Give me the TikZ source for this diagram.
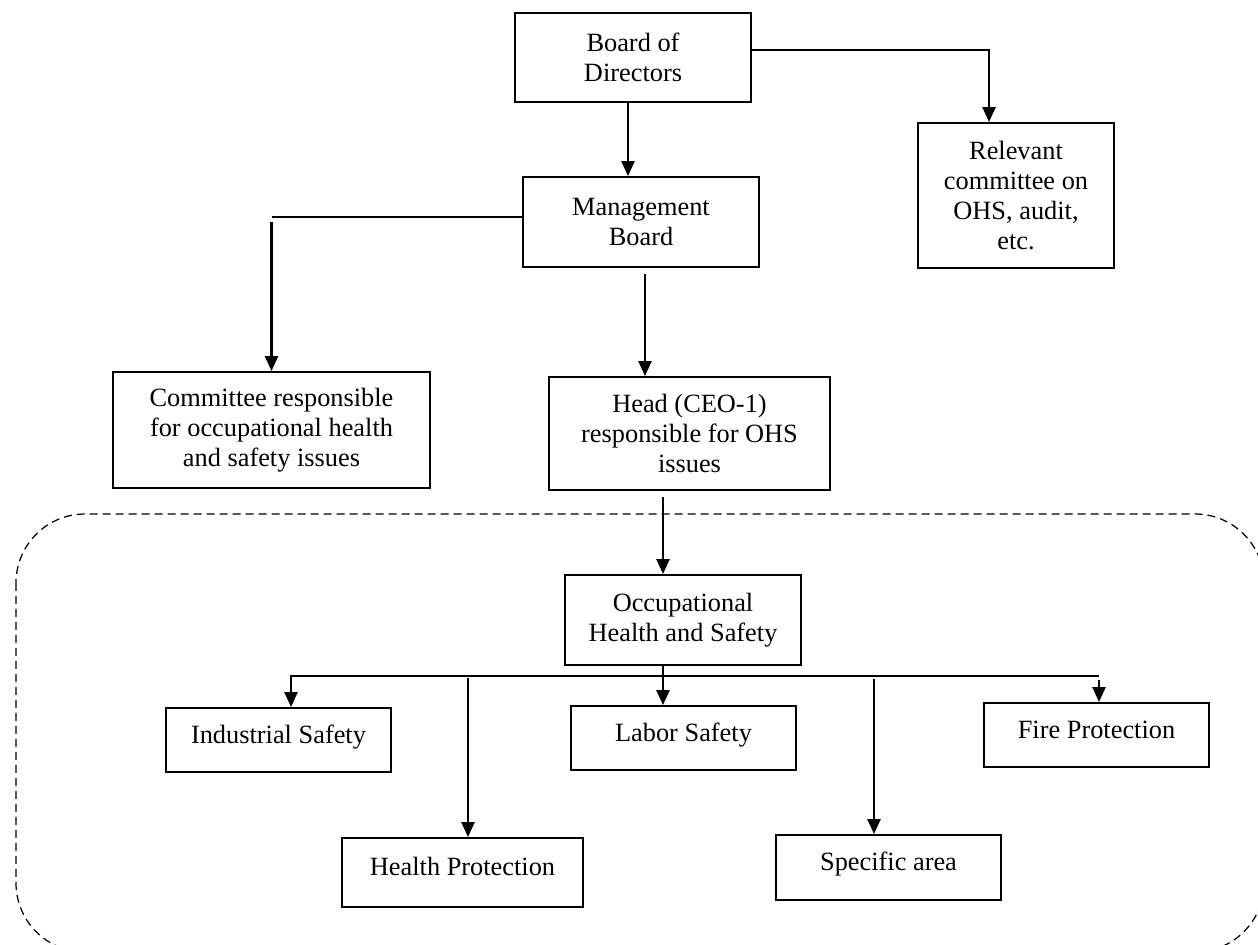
\documentclass[tikz,border=0pt]{standalone}
\usepackage{fontspec}
\setmainfont{Liberation Serif}
\usetikzlibrary{arrows.meta,calc}
\begin{document}
\begin{tikzpicture}[x=0.02cm,y=-0.02cm,
  box/.style={draw=black,line width=1.1pt,inner sep=0pt,align=center,font=\fontsize{15}{17}\selectfont},
  onebox/.style={box,text height=10.5pt,text depth=7pt},
  arr/.style={line width=1.4pt,-{Triangle[length=0.3cm,width=0.26cm]}}]
\clip (0,0) rectangle (1258,945);
\draw[dashed,line width=0.7pt,dash pattern=on 0.16cm off 0.1cm,rounded corners=1.38cm] (16,514) rectangle (1264,952);
\node[box,minimum width=4.72cm,minimum height=1.78cm] (board) at (633,57.5) {Board of\\Directors};
\node[box,minimum width=4.72cm,minimum height=1.8cm] (mgmt) at (641,222) {Management\\Board};
\node[box,minimum width=3.92cm,minimum height=2.9cm] (rel) at (1016,195.5) {Relevant\\committee on\\OHS, audit,\\etc.};
\node[box,minimum width=6.34cm,minimum height=2.32cm] (comm) at (271.5,430) {Committee responsible\\for occupational health\\and safety issues};
\node[box,minimum width=5.62cm,minimum height=2.26cm] (head) at (689.5,433.5) {Head (CEO-1)\\responsible for OHS\\issues};
\node[box,minimum width=4.72cm,minimum height=1.8cm] (occ) at (683,620) {Occupational\\Health and Safety};
\node[onebox,minimum width=4.5cm,minimum height=1.28cm] (ind) at (278.5,740) {Industrial Safety};
\node[onebox,minimum width=4.5cm,minimum height=1.28cm] (lab) at (683.5,738) {Labor Safety};
\node[onebox,minimum width=4.5cm,minimum height=1.28cm] (fire) at (1096.5,735) {Fire Protection};
\node[onebox,minimum width=4.82cm,minimum height=1.38cm] (hp) at (462.5,872.5) {Health Protection};
\node[onebox,minimum width=4.5cm,minimum height=1.3cm] (spec) at (888.5,867.5) {Specific area};
% upper part
\draw[arr] ($(board.south)+(-5,0)$) -- ($(board.south |- mgmt.north)+(-5,0)$);
\draw[arr] ($(board.east)+(0,-7.5)$) -| ($(rel.north)+(-27,0)$);
\draw[line width=1.1pt] ($(mgmt.west)+(0,-5)$) -- ($(comm.north |- mgmt.west)+(0,-5)$);
\draw[arr] ($(comm.north |- mgmt.west)+(0,0)$) -- (comm.north);
\draw[arr] ($(mgmt.south)+(4,6)$) -- ($(mgmt.south |- head.north)+(4,0)$);
\draw[arr] ($(head.south -| occ.north)+(-20,6)$) -- ($(occ.north)+(-20,0)$);
% branches
\coordinate (busL) at (290,676);
\coordinate (busR) at (1099,676);
\draw[line width=1.4pt] (busL) -- (busR);
\draw[arr] ($(occ.south)+(-20,0)$) -- ($(lab.north)+(-20.5,0)$);
\draw[arr] ($(ind.north |- busL)+(12.5,0)$) -- ($(ind.north)+(12.5,0)$);
\draw[arr] ($(hp.north |- busL)+(5.5,2)$) -- ($(hp.north)+(5.5,0)$);
\draw[arr] ($(spec.north |- busL)+(-14.5,3)$) -- ($(spec.north)+(-14.5,0)$);
\draw[arr] ($(fire.north |- busR)+(2.5,4)$) -- ($(fire.north)+(2.5,0)$);
\end{tikzpicture}
\end{document}
